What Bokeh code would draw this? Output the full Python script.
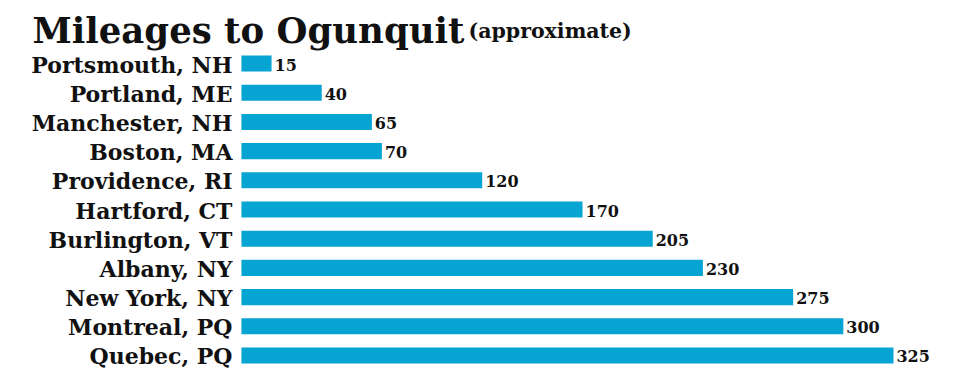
from bokeh.plotting import figure
from bokeh.models import Range1d, Label, ColumnDataSource
from bokeh.core.properties import value
from bokeh.embed import file_html
from bokeh.resources import INLINE

cities = ["Portsmouth, NH", "Portland, ME", "Manchester, NH", "Boston, MA",
          "Providence, RI", "Hartford, CT", "Burlington, VT", "Albany, NY",
          "New York, NY", "Montreal, PQ", "Quebec, PQ"]
miles = [15, 40, 65, 70, 120, 170, 205, 230, 275, 300, 325]
title_main = "Mileages to Ogunquit"
title_sub = "(approximate)"

FONT = "DejaVu Serif"
BAR = "#06a4d2"
INK = "#111111"

rows = list(range(len(cities)))
src = ColumnDataSource(dict(y=rows, miles=miles, city=cities,
                            lab=[str(m) for m in miles]))

W, H = 960, 371
p = figure(width=W, height=H, output_backend="svg", toolbar_location=None,
           x_range=Range1d(-120.1, 358.4), y_range=Range1d(10.548, -2.158),
           min_border=0, min_border_left=0, min_border_right=0,
           min_border_top=0, min_border_bottom=0)
p.axis.visible = False
p.grid.visible = False
p.outline_line_color = None
p.background_fill_color = "white"
p.border_fill_color = "white"

p.hbar(y="y", left=0, right="miles", height=0.55, source=src,
       fill_color=BAR, line_color=None)

p.text(x=0, y="y", text="city", source=src, text_align="right",
       text_baseline="middle", x_offset=-9, y_offset=1,
       text_font=value(FONT), text_font_style="bold",
       text_font_size="22px", text_color=INK)

p.text(x="miles", y="y", text="lab", source=src, text_align="left",
       text_baseline="middle", x_offset=3, y_offset=1,
       text_font=value(FONT), text_font_style="bold",
       text_font_size="16px", text_color=INK)

p.add_layout(Label(x=32, y=H - 43 + 13, x_units="screen", y_units="screen",
                   text=title_main, text_font=FONT, text_font_style="bold",
                   text_font_size="35.5px", text_color=INK,
                   text_baseline="alphabetic"))
p.add_layout(Label(x=468, y=H - 43 + 13, x_units="screen", y_units="screen",
                   text=title_sub, text_font=FONT, text_font_style="bold",
                   text_font_size="20.5px", text_color=INK,
                   text_baseline="alphabetic"))

open("out.html", "w").write(file_html(p, INLINE))
